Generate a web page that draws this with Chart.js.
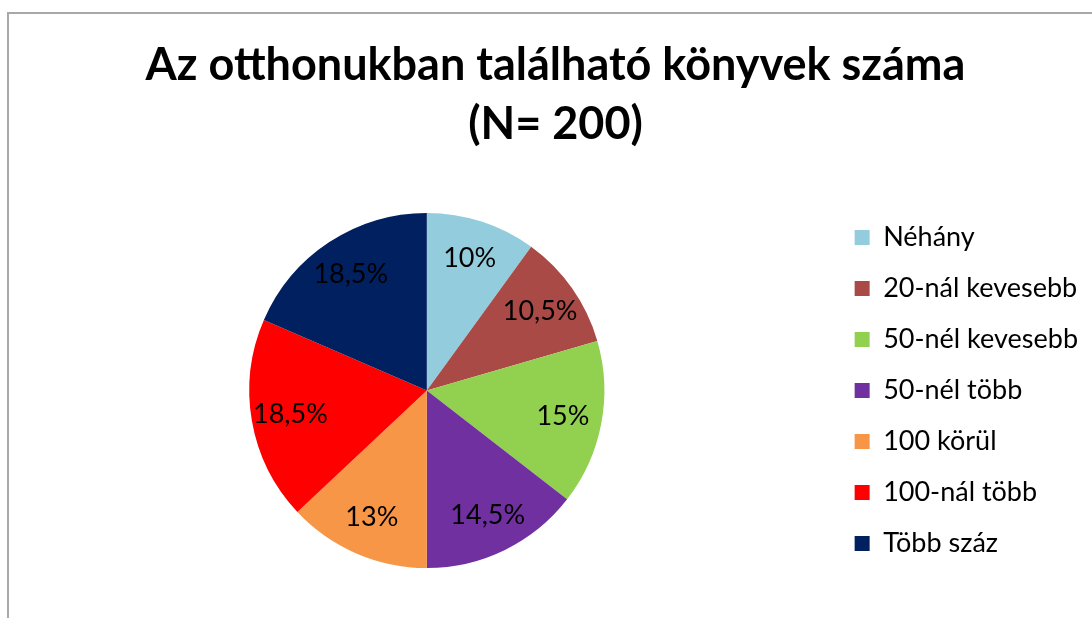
<!DOCTYPE html>
<html>
<head>
<meta charset="utf-8">
<script src="https://cdn.jsdelivr.net/npm/chart.js@4/dist/chart.umd.min.js"></script>
<style>
    html, body { margin: 0; padding: 0; background: #fff; }
    #wrap { position: relative; width: 1092px; height: 618px; overflow: hidden; }
    #frame { position: absolute; left: 7px; top: 12px; width: 1200px; height: 700px;
             border-left: 2px solid #a8a8a8; border-top: 2px solid #a8a8a8; }
    #chart { position: absolute; left: 0; top: 0; }
</style>
</head>
<body>
<div id="wrap">
    <div id="frame"></div>
    <canvas id="chart" width="1092" height="618"></canvas>
</div>
<script>
let titleLines = ['Az otthonukban található könyvek száma', '(N= 200)'];
let categories = ['Néhány', '20-nál kevesebb', '50-nél kevesebb', '50-nél több', '100 körül', '100-nál több', 'Több száz'];
let percents = [10, 10.5, 15, 14.5, 13, 18.5, 18.5];
let sliceColors = ['#93CDDD', '#A94A47', '#92D050', '#7030A0', '#F79646', '#FF0000', '#002060'];

// values drawn inside each slice, Hungarian decimal comma
let pieLabels = {
    id: 'pieLabels',
    afterDatasetsDraw(chart) {
        let ctx = chart.ctx,
            meta = chart.getDatasetMeta(0);
        ctx.save();
        ctx.font = '27px Lato';
        ctx.fillStyle = '#000';
        ctx.textAlign = 'center';
        ctx.textBaseline = 'middle';
        meta.data.forEach(function (arc, i) {
            let p = arc.getProps(['x', 'y', 'startAngle', 'endAngle', 'outerRadius'], true);
            let mid = (p.startAngle + p.endAngle) / 2,
                r = p.outerRadius * 0.78;
            let text = String(percents[i]).replace('.', ',') + '%';
            ctx.fillText(text, p.x + Math.cos(mid) * r, p.y + Math.sin(mid) * r);
        });
        ctx.restore();
    }
};

// legend is full height (so it never wraps) but should be centred next to the pie
let legendBesidePie = {
    id: 'legendBesidePie',
    afterLayout(chart) {
        let legend = chart.legend,
            area = chart.chartArea;
        legend.top = area.top - 25;
        legend.bottom = area.bottom + 25;
        legend.height = legend.bottom - legend.top;
    }
};

let ctx = document.getElementById('chart').getContext('2d');
let chart = new Chart(ctx, {
    type: 'pie',
    data: {
        labels: categories,
        datasets: [{
            data: percents,
            backgroundColor: sliceColors,
            borderWidth: 0
        }]
    },
    options: {
        responsive: false,
        animation: false,
        layout: {
            padding: { left: 23, right: 4, top: 0, bottom: 50 }
        },
        plugins: {
            title: {
                display: true,
                text: titleLines,
                color: '#000',
                font: { family: 'Lato', size: 45, weight: 'bold', lineHeight: 1.31 },
                padding: { top: 36, bottom: 59 }
            },
            legend: {
                position: 'right',
                labels: {
                    boxWidth: 15,
                    boxHeight: 15,
                    padding: 24,
                    color: '#000',
                    font: { family: 'Lato', size: 27 }
                }
            },
            tooltip: { enabled: false }
        }
    },
    plugins: [pieLabels, legendBesidePie]
});
</script>
</body>
</html>
